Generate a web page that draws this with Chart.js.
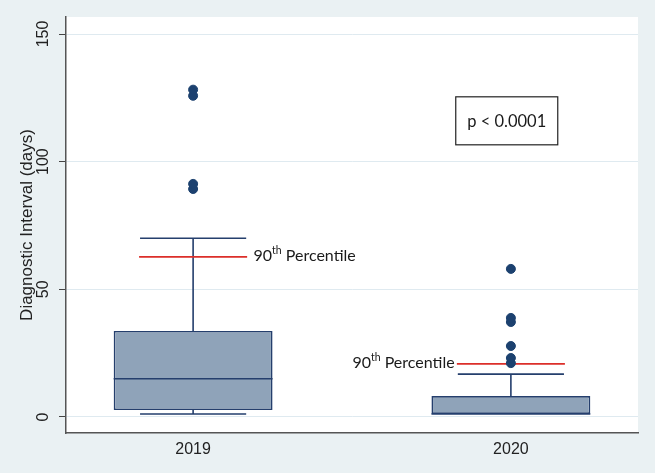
<!DOCTYPE html>
<html>
<head>
<meta charset="utf-8">
<script src="https://cdn.jsdelivr.net/npm/chart.js@4/dist/chart.umd.min.js"></script>
<style>
  html, body { margin: 0; padding: 0; background: #fff; }
  #wrap { width: 657px; height: 475px; }
</style>
</head>
<body>
<div id="wrap"><canvas id="chart"></canvas></div>
<script>
const groups = ['2019', '2020'];
const groupX = [1, 2];
const q1 = [2.7, 1.2];
const median = [15, 1.2];
const q3 = [33.7, 8.2];
const whiskerLow = [1.2, 1.2];
const whiskerHigh = [70, 16.8];
const p90 = [62.7, 20.8];
const outliers2019 = [89.3, 91.3, 125.8, 128.2];
const outliers2020 = [21.1, 23.1, 27.8, 37.2, 38.8, 58];
const yTicks = [0, 50, 100, 150];
const pText = 'p < 0.0001';

const DARK = '#253f6d';
const AXIS_FONT = '"Liberation Sans", Arial, sans-serif';
const CAP = 0.167; // half width of whisker caps, in x units

// Build one line dataset out of separate segments (null y breaks the line).
const segments = (list) => {
  const pts = [];
  list.forEach(([x0, y0, x1, y1]) => {
    pts.push({x: x0, y: y0}, {x: x1, y: y1}, {x: x1, y: null});
  });
  return pts;
};

const whiskerSegs = [];
const medianSegs = [];
const p90Segs = [];
groupX.forEach((x, i) => {
  whiskerSegs.push([x, q3[i], x, whiskerHigh[i]]);
  whiskerSegs.push([x, whiskerLow[i], x, q1[i]]);
  whiskerSegs.push([x - CAP, whiskerHigh[i], x + CAP, whiskerHigh[i]]);
  whiskerSegs.push([x - CAP, whiskerLow[i], x + CAP, whiskerLow[i]]);
  medianSegs.push([x - 0.25, median[i], x + 0.25, median[i]]);
  p90Segs.push([x - CAP - 0.003, p90[i], x + CAP + 0.003, p90[i]]);
});

const lineStyle = {
  type: 'line',
  showLine: true,
  spanGaps: false,
  pointRadius: 0,
  pointHoverRadius: 0,
  fill: false,
};

const bgPlugin = {
  id: 'bg',
  beforeDraw(chart) {
    const {ctx, chartArea: a} = chart;
    ctx.save();
    ctx.fillStyle = '#eaf1f3';
    ctx.fillRect(0, 0, 655, 473);
    ctx.fillStyle = '#ffffff';
    ctx.fillRect(a.left, a.top, a.right - a.left, a.bottom - a.top);
    ctx.restore();
  }
};

const drawPercentile = (ctx, x, y, alignRight) => {
  const big = '16px Lato';
  const small = '10.5px Lato';
  ctx.font = big;
  const w1 = ctx.measureText('90').width;
  const w3 = ctx.measureText(' Percentile').width;
  ctx.font = small;
  const w2 = ctx.measureText('th').width;
  let sx = alignRight ? x - (w1 + w2 + w3) : x;
  ctx.textBaseline = 'middle';
  ctx.textAlign = 'left';
  ctx.fillStyle = '#1a1a1a';
  ctx.font = big;
  ctx.fillText('90', sx, y);
  ctx.font = small;
  ctx.fillText('th', sx + w1, y - 5);
  ctx.font = big;
  ctx.fillText(' Percentile', sx + w1 + w2, y);
};

const notesPlugin = {
  id: 'notes',
  afterDraw(chart) {
    const {ctx, scales: {x, y}} = chart;
    ctx.save();
    // rotated y tick labels
    ctx.fillStyle = '#222';
    ctx.font = '16px ' + AXIS_FONT;
    ctx.textAlign = 'center';
    ctx.textBaseline = 'middle';
    yTicks.forEach(v => {
      ctx.save();
      ctx.translate(44, y.getPixelForValue(v));
      ctx.rotate(-Math.PI / 2);
      ctx.fillText(String(v), 0, 0);
      ctx.restore();
    });
    // percentile labels
    drawPercentile(ctx, x.getPixelForValue(groupX[0] + 0.19), y.getPixelForValue(p90[0]) - 1, false);
    drawPercentile(ctx, x.getPixelForValue(groupX[1] - 0.177), y.getPixelForValue(p90[1]) - 1, true);
    // p value box
    const cx = x.getPixelForValue(1.987);
    const cy = y.getPixelForValue(116);
    ctx.strokeStyle = '#222';
    ctx.lineWidth = 1.2;
    ctx.strokeRect(cx - 51, cy - 24, 102, 48);
    ctx.fillStyle = '#1a1a1a';
    ctx.font = '16.5px Lato';
    ctx.textAlign = 'center';
    ctx.fillText(pText, cx, cy + 1);
    ctx.restore();
  }
};

new Chart(document.getElementById('chart'), {
  data: {
    datasets: [
      {
        ...lineStyle,
        data: segments(p90Segs),
        borderColor: '#dc2f2a',
        borderWidth: 1.8,
        order: 1,
      },
      {
        type: 'scatter',
        data: outliers2019.map(v => ({x: groupX[0], y: v}))
          .concat(outliers2020.map(v => ({x: groupX[1], y: v}))),
        backgroundColor: '#1c416f',
        borderColor: '#1c416f',
        pointRadius: 4.5,
        order: 0,
      },
      {
        ...lineStyle,
        data: segments(whiskerSegs.concat(medianSegs)),
        borderColor: DARK,
        borderWidth: 1.6,
        order: 2,
      },
      {
        type: 'bar',
        data: groupX.map((x, i) => ({x: x, y: [q1[i], q3[i]]})),
        backgroundColor: '#8fa3b9',
        borderColor: DARK,
        borderWidth: 1.6,
        borderSkipped: false,
        barPercentage: 0.5,
        categoryPercentage: 1,
        grouped: false,
        order: 3,
      },
    ]
  },
  options: {
    responsive: true,
    maintainAspectRatio: false,
    animation: false,
    events: [],
    layout: {padding: {top: 17, right: 19, left: 0, bottom: 0}},
    plugins: {legend: {display: false}, tooltip: {enabled: false}},
    scales: {
      x: {
        type: 'linear',
        offset: false,
        min: 0.6,
        max: 2.4,
        afterBuildTicks: s => { s.ticks = groupX.map(v => ({value: v})); },
        afterFit: s => { s.height = 42; },
        ticks: {
          callback: (v, i) => groups[i],
          color: '#222',
          padding: 7,
          maxRotation: 0,
          font: {family: AXIS_FONT, size: 16},
        },
        grid: {display: false, drawTicks: false, offset: false},
        border: {color: '#555', width: 1.5},
      },
      y: {
        type: 'linear',
        min: -6.27,
        max: 156.66,
        afterBuildTicks: s => { s.ticks = yTicks.map(v => ({value: v})); },
        afterFit: s => { s.width = 66; },
        ticks: {display: false},
        grid: {color: '#dfeaf0', lineWidth: 1, tickColor: '#444', tickLength: 7},
        border: {color: '#555', width: 1.5},
        title: {
          display: true,
          text: 'Diagnostic Interval (days)',
          color: '#222',
          padding: {top: 17, bottom: 0},
          font: {family: AXIS_FONT, size: 17},
        },
      },
    },
  },
  plugins: [bgPlugin, notesPlugin],
});
</script>
</body>
</html>
